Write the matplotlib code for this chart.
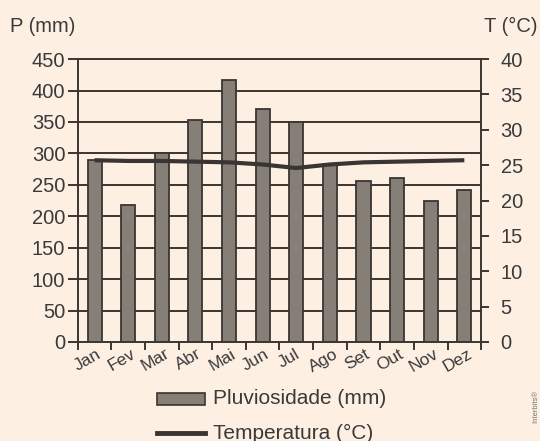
import numpy as np
import matplotlib.pyplot as plt

months = ['Jan', 'Fev', 'Mar', 'Abr', 'Mai', 'Jun', 'Jul', 'Ago', 'Set', 'Out', 'Nov', 'Dez']
rain = [289, 218, 300, 353, 417, 370, 350, 283, 256, 261, 225, 242]
temp = [25.7, 25.6, 25.6, 25.5, 25.4, 25.1, 24.6, 25.1, 25.4, 25.5, 25.6, 25.7]

bg = '#fdefe2'
dark = '#3a3532'
bar_c = '#857f78'
txt = '#3a3a3a'

plt.rcParams['font.family'] = ['Liberation Sans', 'DejaVu Sans']
fig = plt.figure(figsize=(5.4, 4.41), dpi=100, facecolor=bg)
ax = fig.add_axes([0.144, 0.2245, 0.747, 0.6415], facecolor=bg)

x = np.arange(len(months))
ax.set_xlim(-0.5, len(months) - 0.5)
ax.set_ylim(0, 450)
ax.set_yticks(np.arange(0, 451, 50))
for v in np.arange(50, 451, 50):
    ax.axhline(v, color=dark, lw=1.4, zorder=1)
ax.bar(x, rain, width=0.42, color=bar_c, edgecolor=dark, linewidth=1.3, zorder=2)

ax.set_xticks(np.arange(-0.5, len(months)), minor=False)
ax.set_xticklabels([])
ax.set_xticks(x - 0.2, minor=True)
ax.set_xticklabels(months, minor=True, rotation=30, ha='center', fontsize=12.5, color=txt)
ax.tick_params(axis='x', which='major', length=6, width=1.4, color=dark, direction='out')
ax.tick_params(axis='x', which='minor', length=0, pad=3)
ax.tick_params(axis='y', length=7, width=1.4, color=dark, labelsize=14.5, labelcolor=txt, pad=2)
for s in ax.spines.values():
    s.set_color(dark)
    s.set_linewidth(1.4)

ax2 = ax.twinx()
ax2.set_ylim(0, 40)
ax2.set_yticks(np.arange(0, 41, 5))
ax2.tick_params(axis='y', length=6, width=1.4, color=dark, labelsize=14.5, labelcolor=txt, pad=8)
for s in ax2.spines.values():
    s.set_visible(False)
ax2.plot(x, temp, color=dark, lw=3.0, solid_capstyle='butt', zorder=3)

fig.text(10 / 540, 0.941, 'P (mm)', fontsize=14.5, color=txt, va='center')
fig.text(538 / 540, 0.941, 'T (°C)', fontsize=14.5, color=txt, va='center', ha='right')

# legend
fig.patches.append(plt.Rectangle((157 / 540, 1 - 405 / 441), 48 / 540, 12 / 441,
                                 transform=fig.transFigure, facecolor=bar_c,
                                 edgecolor=dark, linewidth=1.2))
fig.lines.append(plt.Line2D([157 / 540, 205 / 540], [1 - 433 / 441] * 2,
                            transform=fig.transFigure, color=dark, lw=3.5))
fig.text(213 / 540, 1 - 399 / 441, 'Pluviosidade (mm)', fontsize=15, color=txt, va='center')
fig.text(213 / 540, 1 - 433 / 441, 'Temperatura (°C)', fontsize=15, color=txt, va='center')
fig.text(0.992, 0.04, 'Interbits®', fontsize=5.5, color='#777', rotation=90, ha='center', va='bottom')

fig.savefig('out.png', dpi=100, facecolor=bg)
